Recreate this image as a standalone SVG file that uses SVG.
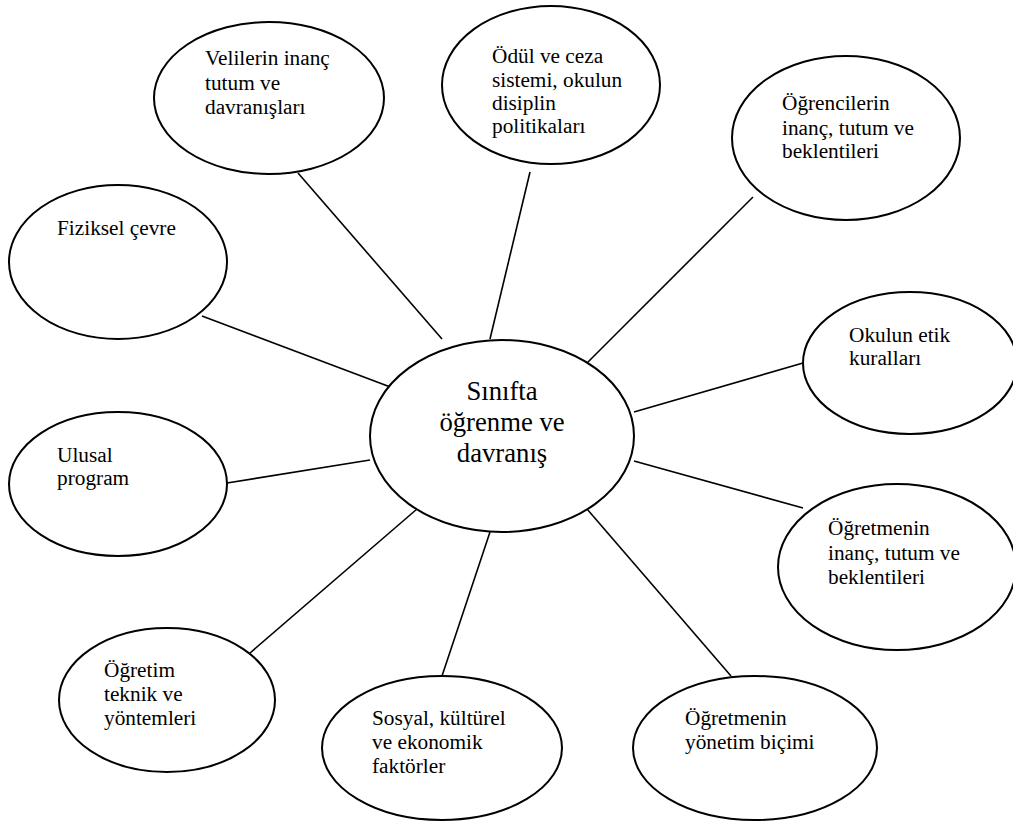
<svg xmlns="http://www.w3.org/2000/svg" width="1013" height="823" viewBox="0 0 1013 823" font-family="Liberation Serif">
<style>
.n{fill:#fff;stroke:#000;stroke-width:2}
.t{font-size:21.3px;fill:#000}
.c{font-size:26.7px;fill:#000;text-anchor:middle}
.e line{stroke:#000;stroke-width:1.6}
</style>
<rect width="1013" height="823" fill="#fff"/>
<g id="connectors" class="e">
<line x1="442" y1="339" x2="298" y2="173"/>
<line x1="490" y1="339" x2="530" y2="172"/>
<line x1="587" y1="363" x2="753" y2="197"/>
<line x1="393" y1="388" x2="202" y2="316"/>
<line x1="634" y1="412" x2="803" y2="363"/>
<line x1="370" y1="460" x2="227" y2="483"/>
<line x1="634" y1="461" x2="803" y2="508"/>
<line x1="417" y1="509" x2="250" y2="653"/>
<line x1="490" y1="532" x2="442" y2="676"/>
<line x1="587" y1="509" x2="731" y2="676"/>
</g>
<g id="center">
<ellipse class="n" cx="502" cy="436" rx="132" ry="96"/>
<text class="c" x="502" y="400" font-family="Liberation Serif">Sınıfta</text>
<text class="c" x="502" y="431" font-family="Liberation Serif">öğrenme ve</text>
<text class="c" x="502" y="462" font-family="Liberation Serif">davranış</text>
</g>
<g id="veliler" font-family="Liberation Serif">
<ellipse class="n" cx="269" cy="98" rx="115" ry="76"/>
<text class="t" x="205" y="65">Velilerin inanç</text>
<text class="t" x="205" y="90">tutum ve</text>
<text class="t" x="205" y="114">davranışları</text>
</g>
<g id="odul" font-family="Liberation Serif">
<ellipse class="n" cx="551" cy="85" rx="109" ry="79"/>
<text class="t" x="492" y="63">Ödül ve ceza</text>
<text class="t" x="492" y="87">sistemi, okulun</text>
<text class="t" x="492" y="110">disiplin</text>
<text class="t" x="492" y="133">politikaları</text>
</g>
<g id="ogrenciler" font-family="Liberation Serif">
<ellipse class="n" cx="846" cy="138" rx="114" ry="82"/>
<text class="t" x="782" y="110">Öğrencilerin</text>
<text class="t" x="782" y="135">inanç, tutum ve</text>
<text class="t" x="782" y="158">beklentileri</text>
</g>
<g id="fiziksel" font-family="Liberation Serif">
<ellipse class="n" cx="118" cy="262" rx="109" ry="77"/>
<text class="t" x="57" y="235">Fiziksel çevre</text>
</g>
<g id="etik" font-family="Liberation Serif">
<ellipse class="n" cx="910" cy="363" rx="107" ry="71"/>
<text class="t" x="849" y="342">Okulun etik</text>
<text class="t" x="849" y="365">kuralları</text>
</g>
<g id="ulusal" font-family="Liberation Serif">
<ellipse class="n" cx="118" cy="484" rx="109" ry="72"/>
<text class="t" x="57" y="462">Ulusal</text>
<text class="t" x="57" y="485">program</text>
</g>
<g id="ogretmen-inanc" font-family="Liberation Serif">
<ellipse class="n" cx="897" cy="567" rx="119" ry="83"/>
<text class="t" x="828" y="535">Öğretmenin</text>
<text class="t" x="828" y="560">inanç, tutum ve</text>
<text class="t" x="828" y="584">beklentileri</text>
</g>
<g id="ogretim" font-family="Liberation Serif">
<ellipse class="n" cx="167" cy="700" rx="108" ry="72"/>
<text class="t" x="104" y="677">Öğretim</text>
<text class="t" x="104" y="701">teknik ve</text>
<text class="t" x="104" y="725">yöntemleri</text>
</g>
<g id="sosyal" font-family="Liberation Serif">
<ellipse class="n" cx="442" cy="748" rx="120" ry="72"/>
<text class="t" x="372" y="725">Sosyal, kültürel</text>
<text class="t" x="372" y="749">ve ekonomik</text>
<text class="t" x="372" y="773">faktörler</text>
</g>
<g id="yonetim" font-family="Liberation Serif">
<ellipse class="n" cx="755" cy="748" rx="122" ry="72"/>
<text class="t" x="685" y="725">Öğretmenin</text>
<text class="t" x="685" y="749">yönetim biçimi</text>
</g>
</svg>
